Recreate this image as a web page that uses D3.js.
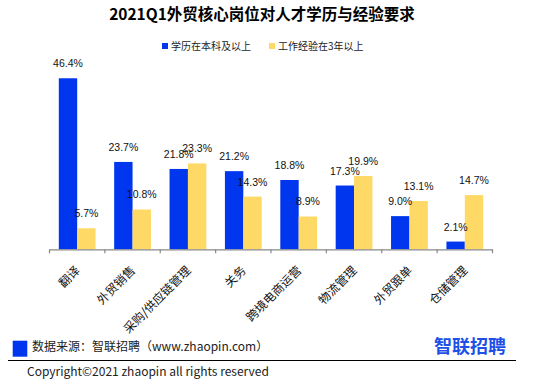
<!DOCTYPE html>
<html><head><meta charset="utf-8">
<script src="https://cdn.jsdelivr.net/npm/d3@7"></script>
<style>body{margin:0;background:#fff;}svg{display:block;}</style>
</head><body>
<svg id="c" width="536" height="384"></svg>
<script>
const categories = ["翻译","外贸销售","采购/供应链管理","关务","跨境电商运营","物流管理","外贸跟单","仓储管理"];
const seriesNames = ["学历在本科及以上","工作经验在3年以上"];
const degreeValues = [46.4, 23.7, 21.8, 21.2, 18.8, 17.3, 9.0, 2.1];
const experienceValues = [5.7, 10.8, 23.3, 14.3, 8.9, 19.9, 13.1, 14.7];
const colors = ["#0036EE", "#FFD966"];
const title = "2021Q1外贸核心岗位对人才学历与经验要求";
const sourceText = "数据来源：智联招聘（www.zhaopin.com）";
const copyrightText = "Copyright©2021 zhaopin all rights reserved";

const font = "'Microsoft YaHei','Noto Sans CJK SC','Liberation Sans',sans-serif";
const svg = d3.select("#c");

const x0 = d3.scaleBand().domain(categories).range([49.5, 492.5]).paddingInner(0).paddingOuter(0);
const x1 = d3.scaleBand().domain([0,1]).range([9.3, x0.bandwidth()-9.3]).padding(0);
const y = d3.scaleLinear().domain([0, 50]).range([249.3, 65]);

svg.append("text").attr("x", 262).attr("y", 20).attr("text-anchor","middle")
  .attr("font-family", font).attr("font-size", 15.5).attr("font-weight","bold").attr("fill","#000").text(title);

// legend
const legendX = [162, 269];
seriesNames.forEach((n,i)=>{
  svg.append("rect").attr("x", legendX[i]).attr("y", 43).attr("width", 6).attr("height", 6).attr("fill", colors[i]);
  svg.append("text").attr("x", legendX[i]+9).attr("y", 49.5).attr("font-family", font).attr("font-size", 10)
    .attr("fill","#222").text(n);
});

const data = categories.map((c,i)=>({c, v:[degreeValues[i], experienceValues[i]]}));
const g = svg.append("g");
const groups = g.selectAll("g.cat").data(data).join("g").attr("transform", d=>`translate(${x0(d.c)},0)`);
groups.selectAll("rect").data(d=>d.v.map((v,i)=>({v,i}))).join("rect")
  .attr("x", d=>x1(d.i)).attr("width", x1.bandwidth())
  .attr("y", d=>y(d.v)).attr("height", d=>y(0)-y(d.v)).attr("fill", d=>colors[d.i]);
groups.selectAll("text").data(d=>d.v.map((v,i)=>({v,i}))).join("text")
  .attr("x", d=>x1(d.i)+x1.bandwidth()/2).attr("y", d=>y(d.v)-11)
  .attr("text-anchor","middle").attr("font-family","'Liberation Sans',Arial,sans-serif").attr("font-size", 10.5)
  .attr("fill","#111").text(d=>d.v.toFixed(1)+"%");

// axis
const axis = d3.axisBottom(x0).tickSize(0).tickFormat("");
const ax = svg.append("g").attr("transform", `translate(0,${y(0)})`).call(axis);
ax.select(".domain").attr("stroke","#888").attr("stroke-width",1.2);
const tickPos = categories.map(c=>x0(c)).concat([x0.range()[1]]);
ax.selectAll("line.tk").data(tickPos).join("line").attr("class","tk")
  .attr("x1", d=>d).attr("x2", d=>d).attr("y1",0).attr("y2",4).attr("stroke","#888").attr("stroke-width",1.2);
ax.selectAll("text.lbl").data(categories).join("text").attr("class","lbl")
  .attr("transform", c=>`translate(${x0(c)+x0.bandwidth()/2+0.5},19) rotate(-45)`)
  .attr("text-anchor","end").attr("dy","0.35em").attr("font-family", font).attr("font-size", 12)
  .attr("fill","#111").text(c=>c);

// footer
svg.append("rect").attr("x", 12.7).attr("y", 340.7).attr("width", 14.6).attr("height", 16).attr("fill", colors[0]);
svg.append("text").attr("x", 32).attr("y", 351).attr("font-family", font).attr("font-size", 12).attr("fill","#222").text(sourceText);
svg.append("text").attr("x", 506).attr("y", 353).attr("text-anchor","end").attr("font-family", font)
  .attr("font-size", 18).attr("font-weight","bold").attr("fill","#1E50E6").text("智联招聘");
svg.append("line").attr("x1", 8).attr("x2", 516).attr("y1", 360.5).attr("y2", 360.5).attr("stroke","#000").attr("stroke-width",1.2);
svg.append("text").attr("x", 27).attr("y", 376).attr("font-family", font).attr("font-size", 12).attr("fill","#222").text(copyrightText);
</script>
</body></html>
